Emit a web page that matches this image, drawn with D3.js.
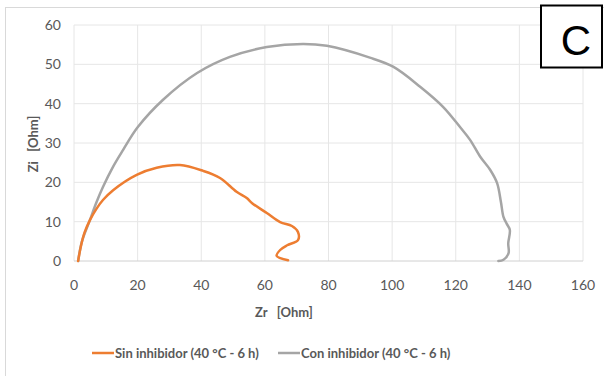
<!DOCTYPE html>
<html><head><meta charset="utf-8">
<script src="https://cdn.jsdelivr.net/npm/d3@7"></script>
<style>body{margin:0;background:#fff}svg{display:block}</style>
</head><body>
<script>
const xTicks = [0,20,40,60,80,100,120,140,160];
const yTicks = [0,10,20,30,40,50,60];
const sinZr = [1.3,2.1,3.3,5,7,9.1,12.3,19.7,26,33.3,40.6,45.9,51.1,54.3,56,60.6,64.8,68.5,70.4,70.4,67,64.8,63.7,67.3];
const sinZi = [0,3.5,7.2,10.4,13.2,15.5,18,21.9,23.7,24.4,22.9,21.1,17.6,16,14.7,12.2,9.9,8.9,7.4,5.3,4,2.8,1.3,0.2];
const conZr = [1.3,2.5,5,7,9.1,12.3,15.4,20,28,38.7,49,60.6,72,79.5,93,100.3,108.8,116,121.4,124.5,127.7,130.8,133,134.2,135,136,137,136.5,136.6,135,133.4];
const conZi = [0,5,10.4,14.8,18.8,24,28.2,34,41,47.8,51.9,54.4,55.2,54.7,51.7,49.4,44.3,39.2,34,30.8,26.5,23.2,19.8,15,11.2,9.5,7.9,4.5,2,0.3,0];
const seriesNames = ["Sin inhibidor (40 °C - 6 h)","Con inhibidor (40 °C - 6 h)"];
const colors = ["#ED7D31","#A5A5A5"];

const W=604,H=376;
const svg=d3.select("body").append("svg").attr("width",W).attr("height",H);
svg.append("rect").attr("x",5.5).attr("y",7.5).attr("width",W+10).attr("height",H+10)
  .attr("fill","#fff").attr("stroke","#d9d9d9");
const x=d3.scaleLinear().domain([0,160]).range([74,583]);
const y=d3.scaleLinear().domain([0,60]).range([261,25]);
const font="Lato, 'Open Sans', sans-serif";
// grid
svg.append("g").selectAll("line").data(xTicks.slice(1)).join("line")
  .attr("x1",d=>x(d)).attr("x2",d=>x(d)).attr("y1",y(0)).attr("y2",y(60))
  .attr("stroke","#e6e6e6");
svg.append("g").selectAll("line").data(yTicks.slice(1)).join("line")
  .attr("x1",x(0)).attr("x2",x(160)).attr("y1",d=>y(d)).attr("y2",d=>y(d))
  .attr("stroke","#e6e6e6");
svg.append("line").attr("x1",x(0)).attr("x2",x(0)).attr("y1",y(0)).attr("y2",y(60)).attr("stroke","#e6e6e6");
svg.append("line").attr("x1",x(0)).attr("x2",x(160)).attr("y1",y(0)).attr("y2",y(0)).attr("stroke","#d0d0d0");
// tick labels
svg.append("g").selectAll("text").data(xTicks).join("text")
  .attr("x",d=>x(d)).attr("y",290).attr("text-anchor","middle")
  .attr("font-family",font).attr("font-size",14).attr("fill","#595959").text(d=>d);
svg.append("g").selectAll("text").data(yTicks).join("text")
  .attr("x",61).attr("y",d=>y(d)+5).attr("text-anchor","end")
  .attr("font-family",font).attr("font-size",14).attr("fill","#595959").text(d=>d);
// axis titles
svg.append("text").attr("x",284).attr("y",317).attr("text-anchor","middle")
  .attr("font-family",font).attr("font-size",13).attr("font-weight","bold").attr("fill","#595959")
  .attr("xml:space","preserve").text("Zr   [Ohm]");
svg.append("text").attr("transform","translate(38,144) rotate(-90)").attr("text-anchor","middle")
  .attr("font-family",font).attr("font-size",13).attr("font-weight","bold").attr("fill","#595959")
  .attr("xml:space","preserve").text("Zi   [Ohm]");
// lines
const line=d3.line().x(d=>x(d[0])).y(d=>y(d[1])).curve(d3.curveCatmullRom.alpha(0.5));
const data=[d3.zip(sinZr,sinZi),d3.zip(conZr,conZi)];
svg.append("g").selectAll("path").data([1,0]).join("path")
  .attr("d",i=>line(data[i])).attr("fill","none").attr("stroke",i=>colors[i])
  .attr("stroke-width",2.5).attr("stroke-linejoin","round").attr("stroke-linecap","round");
// legend
const leg=[{lx:92,tx:115},{lx:278,tx:301}];
leg.forEach((l,i)=>{
  svg.append("line").attr("x1",l.lx).attr("x2",l.lx+22).attr("y1",353).attr("y2",353)
    .attr("stroke",colors[i]).attr("stroke-width",2.5);
  svg.append("text").attr("x",l.tx).attr("y",358).attr("font-family",font).attr("font-size",13)
    .attr("font-weight","bold").attr("fill","#595959").text(seriesNames[i]);
});
// C box
svg.append("rect").attr("x",541).attr("y",5.5).attr("width",61).attr("height",62)
  .attr("fill","#fff").attr("stroke","#000").attr("stroke-width",2);
svg.append("text").attr("x",576).attr("y",55).attr("text-anchor","middle")
  .attr("font-family","'Liberation Sans', Arial, sans-serif").attr("font-size",42).attr("fill","#000").text("C");
</script>
</body></html>
